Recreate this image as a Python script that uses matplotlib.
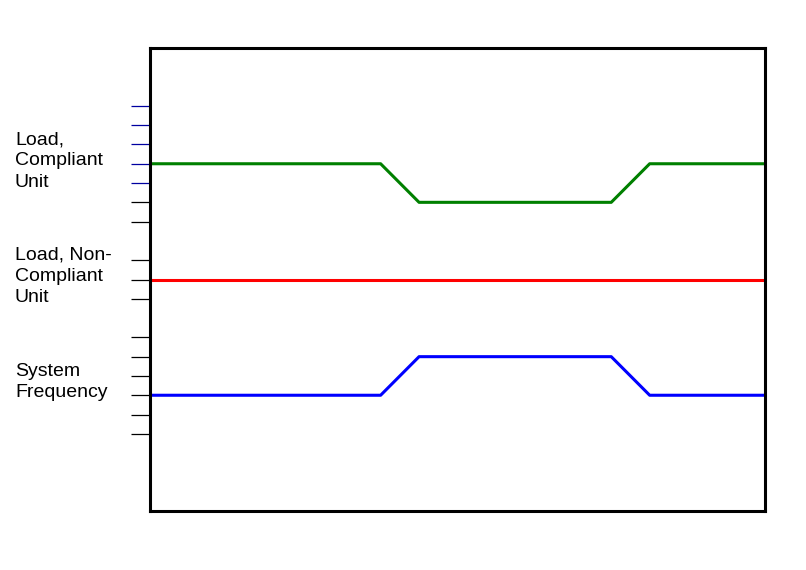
import matplotlib
matplotlib.use("Agg")
from matplotlib import pyplot as plt
from matplotlib import transforms

plt.rcParams['font.family'] = ['Liberation Sans', 'DejaVu Sans']

# time breakpoints and signal levels
time = [0, 6, 7, 12, 13, 16]
load_compliant = [18, 18, 16, 16, 18, 18]
load_noncompliant = [12, 12, 12, 12, 12, 12]
system_freq = [6, 6, 8, 8, 6, 6]

tick_pos = [4, 5, 6, 7, 8, 9, 11, 12, 13, 15, 16, 17, 18, 19, 20, 21]
navy_ticks = [17, 18, 19, 20, 21]

labels = ["Load,\nCompliant\nUnit", "Load, Non-\nCompliant\nUnit", "System\nFrequency"]
label_y = [18.15, 12.15, 6.68]

fig = plt.figure(figsize=(8.06, 5.70), dpi=100)
ax = fig.add_axes([150 / 806, 59 / 570, 615 / 806, 463 / 570])

ax.plot(time, load_compliant, color='#008000', lw=2.2)
ax.plot(time, load_noncompliant, color='#ff0000', lw=2.2)
ax.plot(time, system_freq, color='#0000ff', lw=2.2)

ax.set_xlim(0, 16)
ax.set_ylim(0, 24)
ax.set_xticks([])
ax.set_yticks(tick_pos)
ax.set_yticklabels([])
ax.tick_params(axis='y', direction='out', length=13.5, width=0.9)

for s in ax.spines.values():
    s.set_linewidth(2.2)

trans = transforms.blended_transform_factory(fig.transFigure, ax.transData)
for txt, y in zip(labels, label_y):
    ax.text(15 / 806, y, txt, transform=trans, ha='left', va='center',
            fontsize=14, linespacing=1.33)

# tick lines are markers, so colour the marker edge
fig.canvas.draw()
for t, v in zip(ax.yaxis.get_major_ticks(), ax.get_yticks()):
    t.tick1line.set_markeredgecolor('#0000a0' if v in navy_ticks else 'black')

fig.savefig('out.png', dpi=100)
